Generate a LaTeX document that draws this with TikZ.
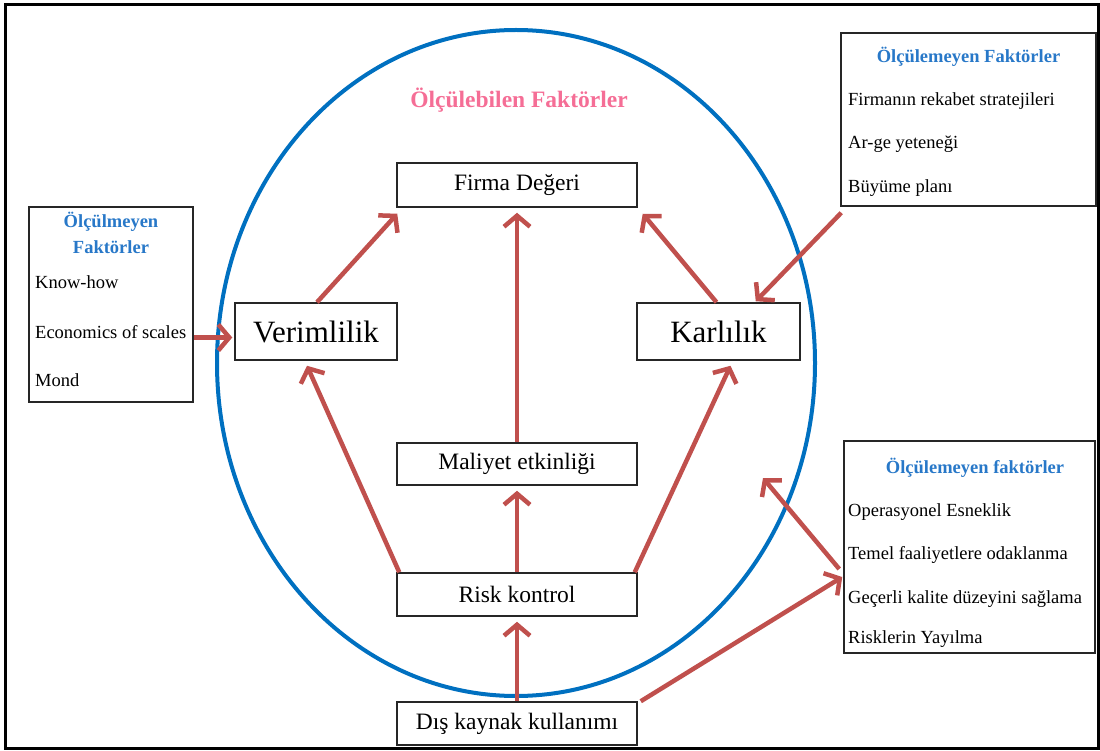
\documentclass[tikz,border=0pt]{standalone}
\usepackage{fontspec}
\setmainfont{Liberation Serif}
\usetikzlibrary{arrows.meta,calc}
\definecolor{arrred}{RGB}{192,80,77}
\definecolor{circblue}{RGB}{0,112,192}
\definecolor{headblue}{RGB}{40,120,200}
\definecolor{titlepink}{RGB}{245,110,150}
\begin{document}
\begin{tikzpicture}[x=1pt,y=-1pt,
  mainbox/.style={draw=black!85,line width=1.5pt,inner sep=0pt,minimum height=43pt,minimum width=240pt,font=\fontsize{23.5}{26}\selectfont},
  bigbox/.style={draw=black!85,line width=1.5pt,inner sep=0pt,minimum height=57pt,minimum width=162pt,font=\fontsize{31}{34}\selectfont},
  sidebox/.style={draw=black!85,line width=1.5pt,inner sep=0pt},
  item/.style={anchor=base west,inner sep=0pt,font=\fontsize{18.5}{21}\selectfont},
  head/.style={anchor=base,inner sep=0pt,text=headblue,font=\bfseries\fontsize{18.5}{21}\selectfont},
  conn/.style={draw=arrred,line width=4.5pt,-{Straight Barb[length=11pt,width=26pt]}},
]
\useasboundingbox (0,0) rectangle (1100,751);
\draw[black,line width=3pt] (5,5) rectangle (1098,748);

% big ellipse
\draw[circblue,line width=4pt] (516,363) ellipse [x radius=299, y radius=333];
\node[inner sep=0pt,anchor=base,text=titlepink,font=\bfseries\fontsize{23.5}{26}\selectfont] (title) at (519,108) {Ölçülebilen Faktörler};

% main boxes
\node[mainbox,minimum height=44pt] (firma) at (517,185) {Firma Değeri};
\node[bigbox] (verim) at (316,331.5) {Verimlilik};
\node[bigbox,minimum width=163pt] (karl) at (718.5,331.5) {Karlılık};
\node[mainbox,minimum height=42pt] (maliyet) at (517,464) {Maliyet etkinliği};
\node[mainbox] (risk) at (517,594.5) {Risk kontrol};
\node[mainbox] (dis) at (517,723.5) {Dış kaynak kullanımı};

% side boxes
\node[sidebox,minimum width=164pt,minimum height=195pt] (leftbox) at (111,304.5) {};
\node[head] (lh1) at (111,228) {Ölçülmeyen};
\node[head] (lh2) at (111,254) {Faktörler};
\node[item] (l1) at (35,289) {Know-how};
\node[item] (l2) at (35,338) {Economics of scales};
\node[item] (l3) at (35,386) {Mond};

\node[sidebox,minimum width=255pt,minimum height=173pt] (trbox) at (968.5,119.5) {};
\node[head] (th) at (968.5,63) {Ölçülemeyen Faktörler};
\node[item] (t1) at (848,106) {Firmanın rekabet stratejileri};
\node[item] (t2) at (848,149) {Ar-ge yeteneği};
\node[item] (t3) at (848,193) {Büyüme planı};

\node[sidebox,minimum width=251pt,minimum height=212pt] (brbox) at (969.5,547) {};
\node[head] (bh) at (975,473) {Ölçülemeyen faktörler};
\node[item] (b1) at (848,516) {Operasyonel Esneklik};
\node[item] (b2) at (848,559) {Temel faaliyetlere odaklanma};
\node[item] (b3) at (848,603) {Geçerli kalite düzeyini sağlama};
\node[item] (b4) at (848,643) {Risklerin Yayılma};

\coordinate (free) at (763,478);

% connectors
\draw[conn] ($(verim.north)+(1,0)$) -- ($(firma.south west)+(1,6)$);
\draw[conn] (maliyet.north) -- ($(firma.south)+(0,5)$);
\draw[conn] ($(karl.north)+(-2,0)$) -- ($(firma.south east)+(5,6)$);
\draw[conn] ($(trbox.south west)+(1,6)$) -- ($(karl.north east)+(-45,-1)$);
\draw[conn] ($(leftbox.east)+(0,33)$) -- ($(verim.west)+(-2,6)$);
\draw[conn] ($(risk.north west)+(3,0)$) -- ($(verim.south)+(-9,5)$);
\draw[conn] ($(risk.north east)+(-3,0)$) -- ($(karl.south)+(12,5)$);
\draw[conn] (risk.north) -- ($(maliyet.south)+(0,5)$);
\draw[conn] (dis.north) -- ($(risk.south)+(0,5)$);
\draw[conn] ($(dis.north east)+(3,0)$) -- ($(brbox.west)+(-1,30)$);
\draw[conn] ($(brbox.west)+(-4,22)$) -- (free);
\end{tikzpicture}
\end{document}
